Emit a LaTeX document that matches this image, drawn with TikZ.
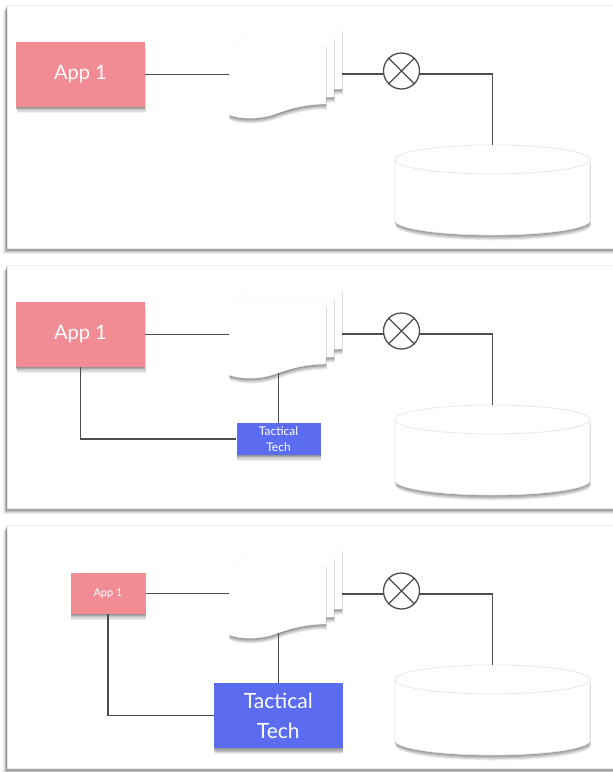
\documentclass[tikz,border=0pt]{standalone}
\usepackage{fontspec}
\setmainfont{Lato}
\usetikzlibrary{shadows}
\definecolor{apppink}{HTML}{F28C94}
\definecolor{tacblue}{HTML}{5C6CF0}
\definecolor{wire}{HTML}{4D4D4D}
\definecolor{rim}{HTML}{E8E8E8}
\newcommand\drawpanelbase[1]{%
  \path[panelbox] (7,5) rectangle (630,248);
  \pic at (245,28) {docpage};
  \pic at (237,36) {docpage};
  \pic at (229,43) {docpage};
  \coordinate (#1docL) at (229,74);
  \coordinate (#1docR) at (342,74);
  \coordinate (#1docB) at (278,113);
  \coordinate (#1cc) at (401.5,71);
  \coordinate (#1cyltop) at (492.5,145);
  \path[cylshape] (395,159.5) -- (395,220.5)
    arc[start angle=180,end angle=360,x radius=97.5pt,y radius=14.5pt]
    -- (590,159.5)
    arc[start angle=0,end angle=180,x radius=97.5pt,y radius=14.5pt] -- cycle;
  \draw[rim, line width=0.8pt] (395,159.5)
    arc[start angle=180,end angle=360,x radius=97.5pt,y radius=14.5pt];
  \draw[wireline] (#1docR) -- (#1docR -| #1cc) -| (#1cyltop);
  \node[xring] (#1ring) at (#1cc) {};
  \draw[wireline] (#1ring.45) -- (#1ring.225) (#1ring.135) -- (#1ring.-45);
}
\begin{document}
\begin{tikzpicture}[x=1pt,y=-1pt,
  panelbox/.style={fill=white, draw=black!8, line width=0.5pt,
    general shadow={fill=black, opacity=0.06, shadow xshift=-4.5pt, shadow yshift=-5.5pt},
    general shadow={fill=black, opacity=0.09, shadow xshift=-3.5pt, shadow yshift=-4.5pt},
    general shadow={fill=black, opacity=0.12, shadow xshift=-2.5pt, shadow yshift=-3.5pt},
    general shadow={fill=black, opacity=0.15, shadow xshift=-1.5pt, shadow yshift=-2.5pt},
    general shadow={fill=black, opacity=0.15, shadow xshift=-0.7pt, shadow yshift=-1.2pt}},
  softshadow/.style={
    general shadow={fill=black, opacity=0.06, shadow xshift=0.8pt, shadow yshift=-5.5pt},
    general shadow={fill=black, opacity=0.09, shadow xshift=0.6pt, shadow yshift=-4.5pt},
    general shadow={fill=black, opacity=0.11, shadow xshift=0.4pt, shadow yshift=-3.3pt},
    general shadow={fill=black, opacity=0.12, shadow xshift=0.2pt, shadow yshift=-2.2pt},
    general shadow={fill=black, opacity=0.12, shadow yshift=-1pt}},
  appbox/.style={rectangle, fill=apppink, text=white, inner sep=0pt, softshadow},
  tacbox/.style={rectangle, fill=tacblue, text=white, inner sep=0pt, align=center, softshadow},
  wireline/.style={draw=wire, line width=1.3pt},
  pageshape/.style={fill=white, draw=black!4, line width=0.4pt, softshadow},
  cylshape/.style={fill=white, draw=rim, line width=0.8pt, softshadow},
  xring/.style={circle, draw=wire, line width=1.3pt, fill=white, minimum size=36pt, inner sep=0pt},
  docpage/.pic={\path[pageshape] (0,0) -- (97,0) -- (97,61)
     .. controls (81,61) and (66,64) .. (49,70)
     .. controls (33,76) and (16,77) .. (0,72) -- cycle;}
]
\useasboundingbox (0,0) rectangle (613,772);
\fill[white] (0,0) rectangle (613,772);

% Panel 1
\drawpanelbase{a}
\node[appbox, minimum width=129pt, minimum height=65pt, font=\fontsize{20}{24}\selectfont] (aapp) at (80.5,74.5) {App 1};
\draw[wireline] (aapp.east) -- (aapp.east -| adocL);

% Panel 2
\begin{scope}[shift={(0,260)}]
\drawpanelbase{b}
\node[appbox, minimum width=129pt, minimum height=65pt, font=\fontsize{20}{24}\selectfont] (bapp) at (80.5,74.5) {App 1};
\node[tacbox, minimum width=84pt, minimum height=32.3pt, font=\fontsize{12}{15.5}\selectfont] (btac) at (278.5,179) {Tactical\\Tech};
\draw[wireline] (bapp.east) -- (bapp.east -| bdocL);
\draw[wireline] (bapp.south) |- (btac.west);
\draw[wireline] (btac.north |- bdocB) -- (btac.north);
\end{scope}

% Panel 3
\begin{scope}[shift={(0,520)}]
\drawpanelbase{c}
\node[appbox, minimum width=75pt, minimum height=40.7pt, font=\fontsize{11}{13}\selectfont] (capp) at (108,73.7) {App 1};
\node[tacbox, minimum width=128.5pt, minimum height=65pt, font=\fontsize{21}{30}\selectfont] (ctac) at (278.3,195.8) {Tactical\\Tech};
\draw[wireline] (capp.east) -- (capp.east -| cdocL);
\draw[wireline] (capp.south) |- (ctac.west);
\draw[wireline] (ctac.north |- cdocB) -- (ctac.north);
\end{scope}
\end{tikzpicture}
\end{document}
